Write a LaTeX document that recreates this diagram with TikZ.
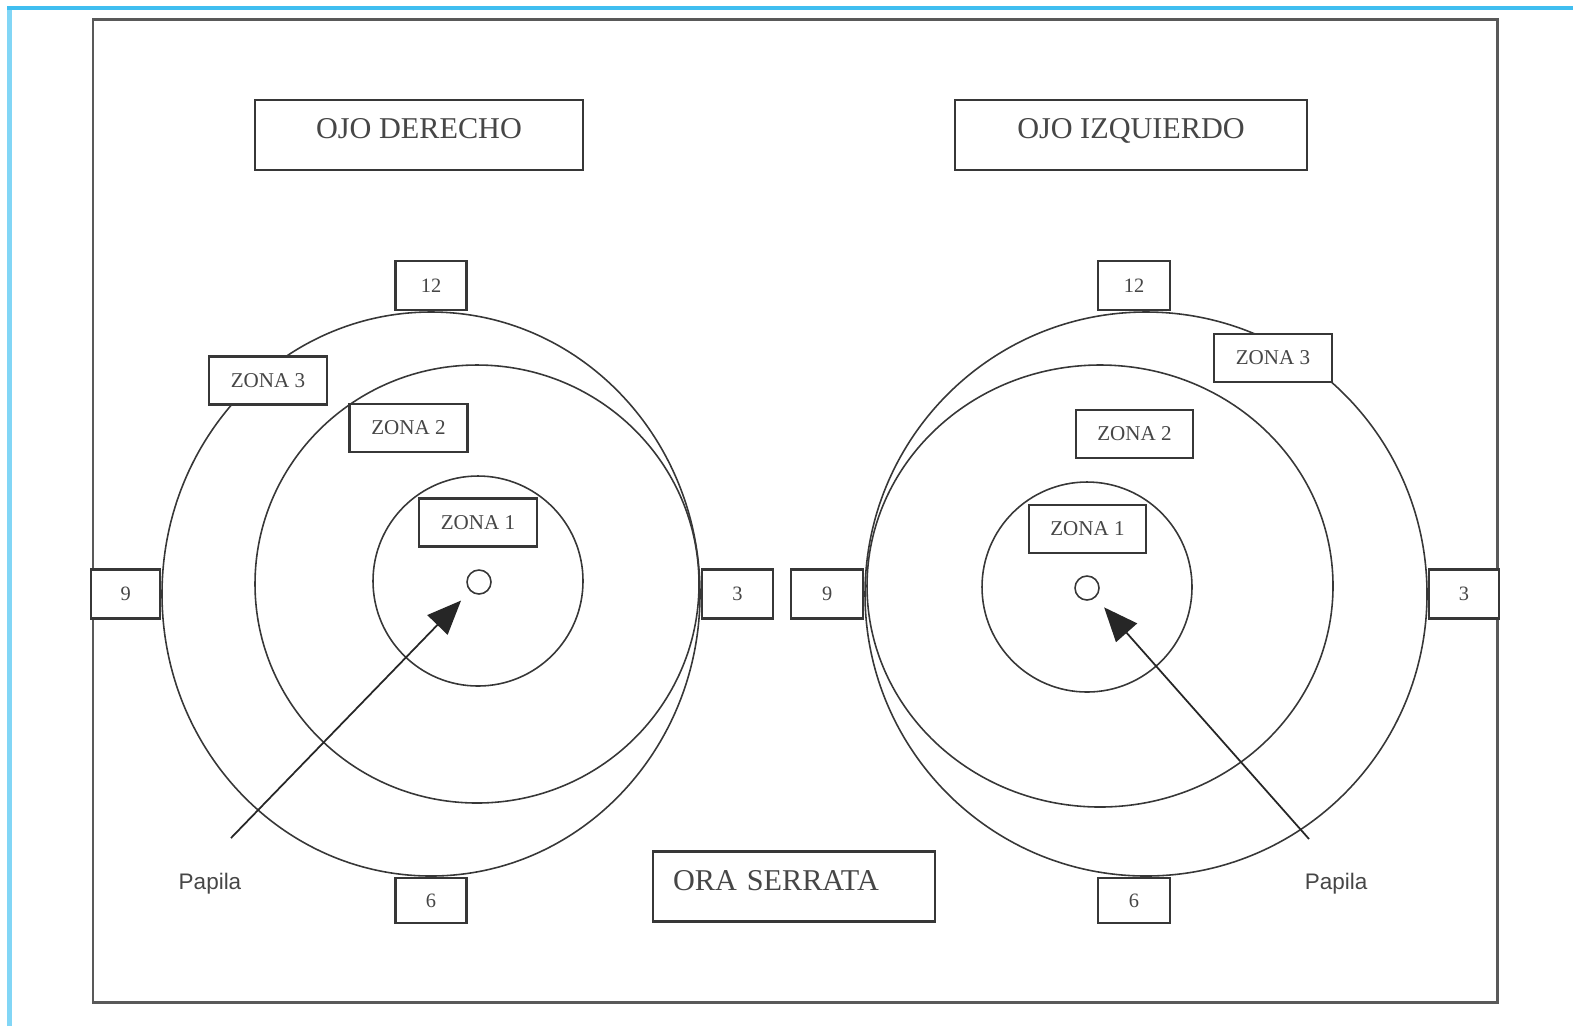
\documentclass[tikz,border=0pt]{standalone}
\usepackage{fontspec}
\setmainfont{Liberation Serif}
\setsansfont{Liberation Sans}
\usepackage{tikz}
\usetikzlibrary{positioning, calc, arrows.meta, shapes.geometric}
\definecolor{framecyan}{RGB}{64,190,240}
\definecolor{framecyanlight}{RGB}{130,214,246}
\definecolor{inkgray}{RGB}{55,55,55}
\definecolor{textgray}{RGB}{70,70,70}
\tikzset{ring/.style={ellipse, draw=inkgray, line width=0.45pt, inner sep=0pt}}
\tikzset{tag/.style={draw=inkgray, fill=white, line width=0.6pt, inner sep=0pt, text=textgray}}
\tikzset{hour/.style={tag, minimum width=7.1mm, minimum height=4.9mm, font=\fontsize{5.8}{7}\selectfont}}
\tikzset{zona/.style={tag, minimum width=11.8mm, minimum height=4.8mm, font=\fontsize{6}{7}\selectfont}}
\tikzset{title/.style={tag, minimum height=7mm, text depth=1.4mm, font=\fontsize{8.6}{10}\selectfont}}
\tikzset{papila/.style={text=textgray, font=\sffamily\fontsize{6.4}{8}\selectfont}}
\tikzset{pointer/.style={draw=black!85, line width=0.5pt, -{Triangle[length=3.4mm,width=2.8mm]}, shorten >=1.3mm}}

\begin{document}
\begin{tikzpicture}[x=0.1mm, y=-0.1mm]

      \useasboundingbox (0,0) rectangle (1573,1026);

      % FRAME

      \draw[line width=0.5mm, framecyanlight] (9.5,1026) -- (9.5,6);
      \draw[line width=0.4mm, framecyan] (7,8) -- (1573,8);
      \draw[line width=0.85pt, black!65] (93,19) rectangle (1497,1002);

      % TITLES

      \node[title, minimum width=32.8mm] (oder) at (419,135) {OJO DERECHO};
      \node[title, minimum width=35.2mm] (oizq) at (1131,135) {OJO IZQUIERDO};
      \node[title, minimum width=28.2mm, text width=24.2mm, align=left, text depth=1.3mm] (ora) at (794,886.5) {ORA SERRATA};

      % OJO DERECHO

      \node[ring, minimum width=53.8mm, minimum height=56.4mm] (dz3ring) at (431,594) {};
      \node[ring, minimum width=44.4mm, minimum height=43.8mm] (dz2ring) at (477,584) {};
      \node[ring, minimum size=21mm] (dz1ring) at (478,581) {};
      \node[ring, minimum size=2.4mm] (dpap) at (479,582) {};

      \node[hour, anchor=south] (d12) at ($(dz3ring.north)$) {12};
      \node[hour, anchor=north, minimum height=4.5mm] (d6) at ($(dz3ring.south)$) {6};
      \node[hour, anchor=east, minimum width=6.9mm] (d9) at ($(dz3ring.west)$) {9};
      \node[hour, anchor=west] (d3) at ($(dz3ring.east)$) {3};

      \node[zona] (dz3) at (268,380.5) {ZONA 3};
      \node[zona] (dz2) at (408.5,428) {ZONA 2};
      \node[zona] (dz1) at (478,522.5) {ZONA 1};

      \coordinate (dtail) at (231,838);
      \draw[pointer] (dtail) -- (dpap);
      \node[papila] (dpapila) at (210,884) {Papila};

      % OJO IZQUIERDO

      \node[ring, minimum width=56.2mm, minimum height=56.4mm] (iz3ring) at (1146,594) {};
      \node[ring, minimum width=46.6mm, minimum height=44.2mm] (iz2ring) at (1100,586) {};
      \node[ring, minimum size=21mm] (iz1ring) at (1087,587) {};
      \node[ring, minimum size=2.4mm] (ipap) at (1087,588) {};

      \node[hour, anchor=south, minimum width=7.2mm] (i12) at ($(iz3ring.north)-(12,0)$) {12};
      \node[hour, anchor=north, minimum width=7.2mm, minimum height=4.5mm] (i6) at ($(iz3ring.south)-(12,0)$) {6};
      \node[hour, anchor=east, minimum width=7.2mm] (i9) at ($(iz3ring.west)$) {9};
      \node[hour, anchor=west, minimum width=7mm] (i3) at ($(iz3ring.east)$) {3};

      \node[zona] (iz3) at (1273,358) {ZONA 3};
      \node[zona, minimum width=11.7mm] (iz2) at (1134.5,434) {ZONA 2};
      \node[zona, minimum width=11.7mm] (iz1) at (1087.5,529) {ZONA 1};

      \coordinate (itail) at (1309,839);
      \draw[pointer] (itail) -- (ipap);
      \node[papila] (ipapila) at (1336,884) {Papila};

\end{tikzpicture}
\end{document}
